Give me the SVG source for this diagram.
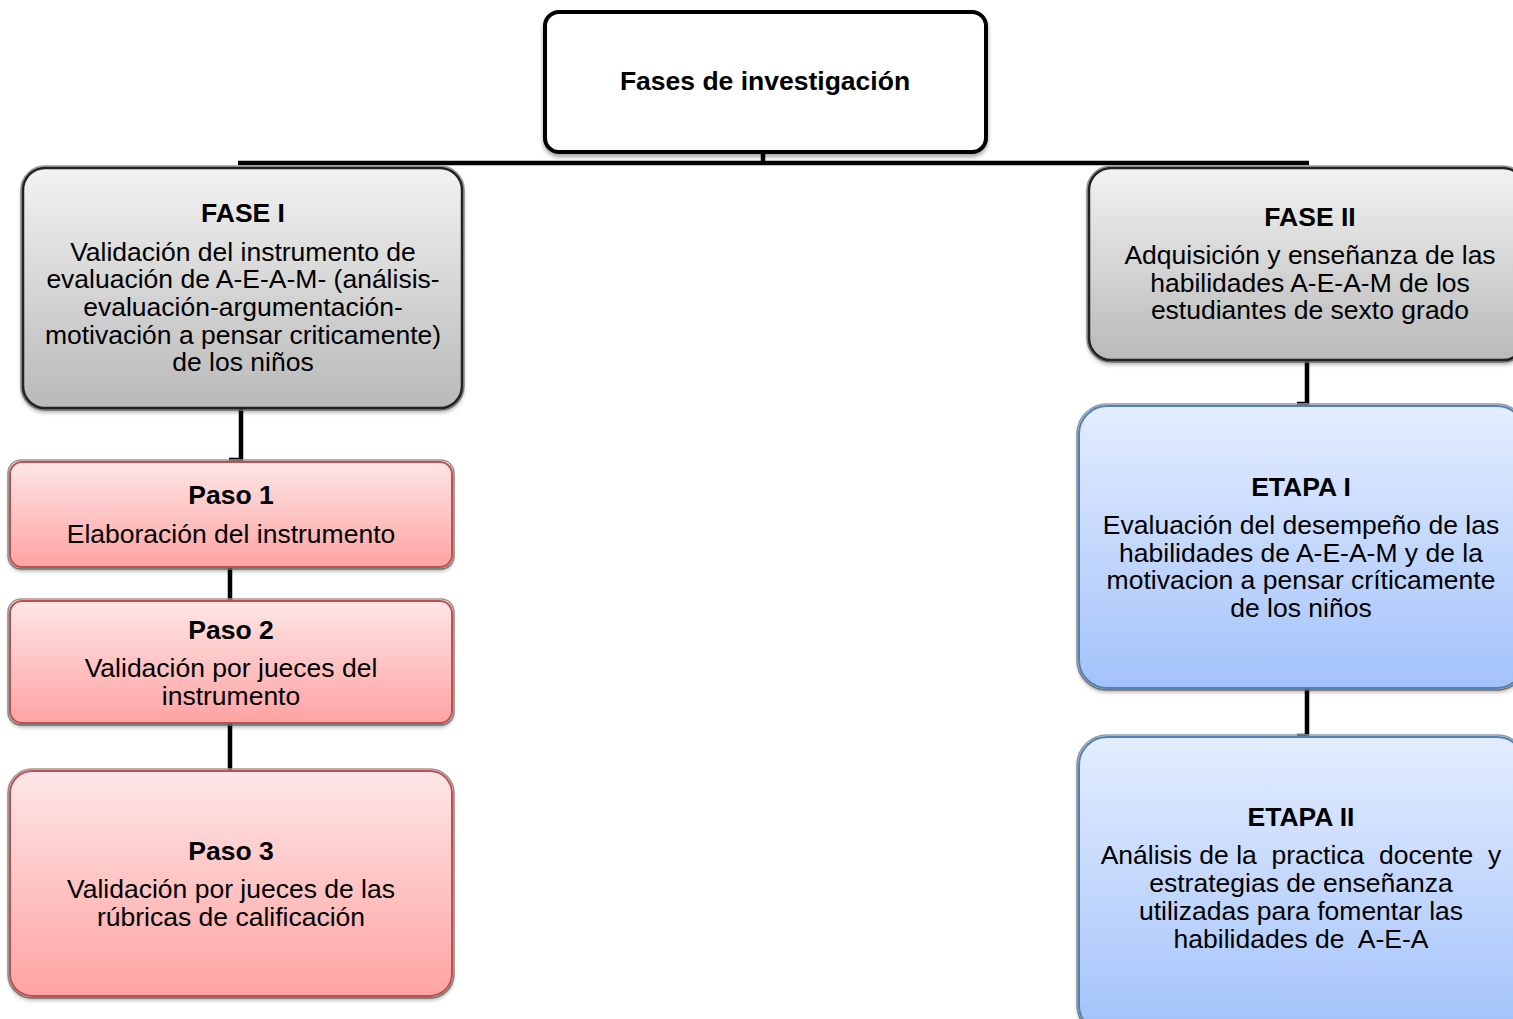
<svg xmlns="http://www.w3.org/2000/svg" width="1513" height="1019" viewBox="0 0 1513 1019">
<defs>
<linearGradient id="gGray" x1="0" y1="0" x2="0" y2="1"><stop offset="0" stop-color="#f2f2f2"/><stop offset="1" stop-color="#b9b9b9"/></linearGradient>
<linearGradient id="gPink" x1="0" y1="0" x2="0" y2="1"><stop offset="0" stop-color="#fde6e6"/><stop offset="1" stop-color="#ffa3a3"/></linearGradient>
<linearGradient id="gBlue" x1="0" y1="0" x2="0" y2="1"><stop offset="0" stop-color="#e4edff"/><stop offset="1" stop-color="#a3c2fa"/></linearGradient>
<filter id="sh" x="-5%" y="-5%" width="110%" height="115%"><feDropShadow dx="0" dy="3" stdDeviation="2" flood-color="#000" flood-opacity="0.35"/></filter>
</defs>
<style>
text{font-family:"Liberation Sans",Arial,sans-serif;font-size:26.5px;fill:#000;text-anchor:middle;white-space:pre}
.b{font-weight:bold}
.gray{fill:url(#gGray);stroke:#222;stroke-width:2.5}
.pink{fill:url(#gPink);stroke:#c0504d;stroke-width:2}
.blue{fill:url(#gBlue);stroke:#4f81bd;stroke-width:2}
.halo{fill:none;stroke:#9a9a9a;stroke-width:1.5}
.con{fill:none;stroke:#000;stroke-width:4.5}
</style>
<g id="connectors">
<path class="con" d="M763 152 V163 M238 163 H1309"/>
<path class="con" d="M241 408 V460 H229"/>
<path class="con" d="M230 567 V601"/>
<path class="con" d="M230 723 V771"/>
<path class="con" d="M1307 360 V404 H1297"/>
<path class="con" d="M1307 688 V736 H1297"/>
</g>
<g id="root">
<rect x="545" y="12" width="441" height="140" rx="14" fill="#fff" stroke="#000" stroke-width="4" filter="url(#sh)"/>
<text class="b" x="765" y="90">Fases de investigación</text>
</g>
<g id="fase1">
<rect class="halo" x="21" y="166" width="443" height="244" rx="24"/>
<rect class="gray" x="23" y="168" width="439" height="240" rx="22" filter="url(#sh)"/>
<text class="b" x="243" y="222">FASE I</text>
<text x="243" y="261">Validación del instrumento de</text>
<text x="243" y="288">evaluación de A-E-A-M- (análisis-</text>
<text x="243" y="316">evaluación-argumentación-</text>
<text x="243" y="344">motivación a pensar criticamente)</text>
<text x="243" y="371">de los niños</text>
</g>
<g id="fase2">
<rect class="halo" x="1087" y="166" width="440" height="196" rx="24"/>
<rect class="gray" x="1089" y="168" width="436" height="192" rx="22" filter="url(#sh)"/>
<text class="b" x="1310" y="226">FASE II</text>
<text x="1310" y="264">Adquisición y enseñanza de las</text>
<text x="1310" y="292">habilidades A-E-A-M de los</text>
<text x="1310" y="319">estudiantes de sexto grado</text>
</g>
<g id="paso1">
<rect class="halo" x="8" y="460" width="446" height="109" rx="13"/>
<rect class="pink" x="10" y="462" width="442" height="105" rx="12" filter="url(#sh)"/>
<text class="b" x="231" y="504">Paso 1</text>
<text x="231" y="543">Elaboración del instrumento</text>
</g>
<g id="paso2">
<rect class="halo" x="8" y="599" width="446" height="126" rx="13"/>
<rect class="pink" x="10" y="601" width="442" height="122" rx="12" filter="url(#sh)"/>
<text class="b" x="231" y="639">Paso 2</text>
<text x="231" y="677">Validación por jueces del</text>
<text x="231" y="705">instrumento</text>
</g>
<g id="paso3">
<rect class="halo" x="8" y="769" width="446" height="229" rx="24"/>
<rect class="pink" x="10" y="771" width="442" height="225" rx="22" filter="url(#sh)"/>
<text class="b" x="231" y="860">Paso 3</text>
<text x="231" y="898">Validación por jueces de las</text>
<text x="231" y="926">rúbricas de calificación</text>
</g>
<g id="etapa1">
<rect class="halo" x="1077" y="404" width="450" height="286" rx="30"/>
<rect class="blue" x="1079" y="406" width="446" height="282" rx="28" filter="url(#sh)"/>
<text class="b" x="1301" y="496">ETAPA I</text>
<text x="1301" y="534">Evaluación del desempeño de las</text>
<text x="1301" y="562">habilidades de A-E-A-M y de la</text>
<text x="1301" y="589">motivacion a pensar críticamente</text>
<text x="1301" y="617">de los niños</text>
</g>
<g id="etapa2">
<rect class="halo" x="1077" y="735" width="450" height="300" rx="30"/>
<rect class="blue" x="1079" y="737" width="446" height="296" rx="28" filter="url(#sh)"/>
<text class="b" x="1301" y="826">ETAPA II</text>
<text x="1301" y="864">Análisis de la  practica  docente  y</text>
<text x="1301" y="892">estrategias de enseñanza</text>
<text x="1301" y="920">utilizadas para fomentar las</text>
<text x="1301" y="948">habilidades de  A-E-A</text>
</g>
</svg>
